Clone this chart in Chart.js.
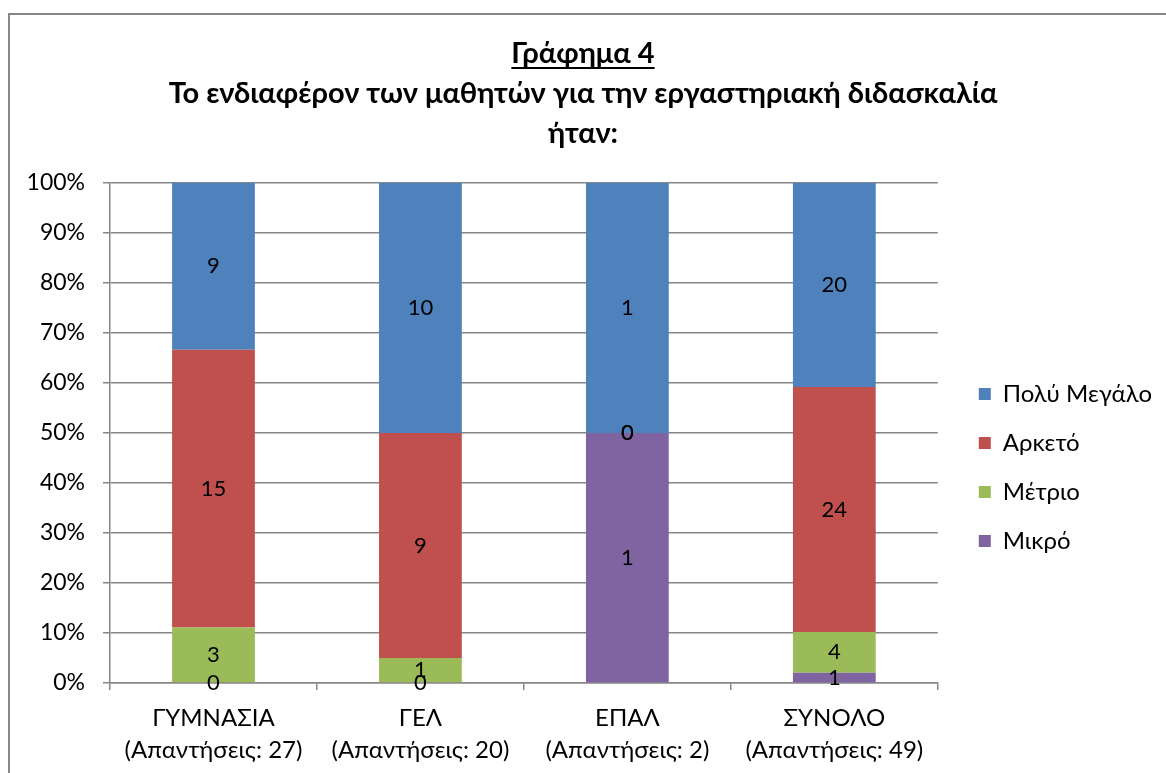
<!DOCTYPE html>
<html>
<head>
<meta charset="utf-8">
<script src="https://cdn.jsdelivr.net/npm/chart.js@4.4.0/dist/chart.umd.min.js"></script>
<style>
  html, body { margin: 0; padding: 0; background: #fff; }
  #wrap { width: 1166px; height: 773px; }
</style>
</head>
<body>
<div id="wrap"><canvas id="chart"></canvas></div>
<script>
// Categories (x-axis labels, two lines each)
const categories = [
    ['ΓΥΜΝΑΣΙΑ', '(Απαντήσεις: 27)'],
    ['ΓΕΛ', '(Απαντήσεις: 20)'],
    ['ΕΠΑΛ', '(Απαντήσεις: 2)'],
    ['ΣΥΝΟΛΟ', '(Απαντήσεις: 49)']
];

// Answer counts per series (stacked bottom -> top)
const mikro = [0, 0, 1, 1];
const metrio = [3, 1, 0, 4];
const arketo = [15, 9, 0, 24];
const polyMegalo = [9, 10, 1, 20];

const yTicks = [0, 10, 20, 30, 40, 50, 60, 70, 80, 90, 100];

const titleLines = [
    'Γράφημα 4',
    'Το ενδιαφέρον των μαθητών για την εργαστηριακή διδασκαλία',
    'ήταν:'
];

const FONT = 'Lato';
const TITLE_SIZE = 29;
const TITLE_LH = 40;

// totals per category, used to turn counts into 100% stacked shares
const totals = categories.map((c, i) => mikro[i] + metrio[i] + arketo[i] + polyMegalo[i]);
function toPercent(counts) {
    return counts.map((v, i) => totals[i] ? v / totals[i] * 100 : 0);
}

const series = [
    { label: 'Μικρό', counts: mikro, color: '#8064A2' },
    { label: 'Μέτριο', counts: metrio, color: '#9BBB59' },
    { label: 'Αρκετό', counts: arketo, color: '#C0504D' },
    { label: 'Πολύ Μεγάλο', counts: polyMegalo, color: '#4F81BD' }
];

// Outer frame of the chart
const framePlugin = {
    id: 'frame',
    beforeDraw(chart) {
        const ctx = chart.ctx;
        ctx.save();
        ctx.fillStyle = '#fff';
        ctx.fillRect(0, 0, chart.width, chart.height);
        ctx.strokeStyle = '#868686';
        ctx.lineWidth = 2;
        ctx.strokeRect(9, 14, chart.width + 20, chart.height + 20);
        ctx.restore();
    }
};

// Move the legend a bit lower / further from the plot, like the original
const legendShift = {
    id: 'legendShift',
    afterLayout(chart) {
        const lg = chart.legend;
        lg.top += 81; lg.bottom += 81;
        lg.left += 16; lg.right += 16;
    }
};

// Underline under the first title line
const underlinePlugin = {
    id: 'underline',
    afterDraw(chart) {
        const tb = chart.titleBlock;
        const opts = chart.options.plugins.title;
        const ctx = chart.ctx;
        ctx.save();
        ctx.font = `bold ${TITLE_SIZE}px ${FONT}`;
        const w = ctx.measureText(titleLines[0]).width;
        const cx = (tb.left + tb.right) / 2;
        const y = tb.top + opts.padding.top + TITLE_LH / 2 + 14;
        ctx.strokeStyle = '#000';
        ctx.lineWidth = 2;
        ctx.beginPath();
        ctx.moveTo(cx - w / 2, y);
        ctx.lineTo(cx + w / 2, y);
        ctx.stroke();
        ctx.restore();
    }
};

// Count labels in the middle of each segment
const countLabels = {
    id: 'countLabels',
    afterDatasetsDraw(chart) {
        const ctx = chart.ctx;
        ctx.save();
        ctx.font = `22px ${FONT}`;
        ctx.fillStyle = '#000';
        ctx.textAlign = 'center';
        ctx.textBaseline = 'middle';
        chart.data.datasets.forEach((ds, di) => {
            const meta = chart.getDatasetMeta(di);
            meta.data.forEach((bar, i) => {
                const y = (bar.y + bar.base) / 2;
                ctx.fillText(String(ds.counts[i]), bar.x, y);
            });
        });
        ctx.restore();
    }
};

const ctx = document.getElementById('chart').getContext('2d');
new Chart(ctx, {
    type: 'bar',
    data: {
        labels: categories,
        datasets: series.map(s => ({
            label: s.label,
            data: toPercent(s.counts),
            counts: s.counts,
            backgroundColor: s.color,
            borderWidth: 0,
            barPercentage: 0.4,
            categoryPercentage: 1
        }))
    },
    options: {
        responsive: true,
        maintainAspectRatio: false,
        animation: false,
        layout: { padding: { left: 20, right: 20, top: 0, bottom: 0 } },
        plugins: {
            title: {
                display: true,
                text: titleLines,
                color: '#000',
                font: { family: FONT, size: TITLE_SIZE, weight: 'bold', lineHeight: TITLE_LH / TITLE_SIZE },
                padding: { top: 34, bottom: 29 }
            },
            legend: {
                position: 'right',
                reverse: true,
                labels: {
                    color: '#000',
                    font: { family: FONT, size: 24 },
                    boxWidth: 12,
                    boxHeight: 12,
                    padding: 25
                }
            },
            tooltip: { enabled: false }
        },
        scales: {
            x: {
                stacked: true,
                grid: {
                    offset: true,
                    drawOnChartArea: false,
                    drawTicks: true,
                    tickLength: 7,
                    color: '#868686',
                    lineWidth: 1.5
                },
                border: { color: '#868686', width: 1.5 },
                ticks: {
                    color: '#000',
                    font: { family: FONT, size: 24, lineHeight: 1.35 },
                    maxRotation: 0,
                    padding: 12
                },
                afterFit(scale) { scale.height = 90; }
            },
            y: {
                stacked: true,
                min: 0,
                max: 100,
                afterBuildTicks(scale) {
                    scale.ticks = yTicks.map(v => ({ value: v }));
                },
                grid: {
                    color: '#868686',
                    lineWidth: 1.5,
                    tickLength: 7
                },
                border: { color: '#868686', width: 1.5 },
                ticks: {
                    color: '#000',
                    font: { family: FONT, size: 23 },
                    padding: 18,
                    callback: v => v + '%'
                },
                afterFit(scale) { scale.width = 90; }
            }
        }
    },
    plugins: [framePlugin, legendShift, underlinePlugin, countLabels]
});
</script>
</body>
</html>
